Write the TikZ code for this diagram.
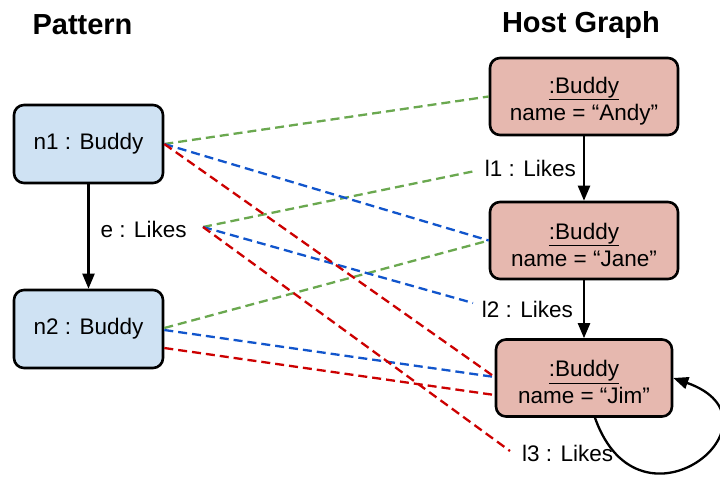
\documentclass[tikz,border=0pt]{standalone}
\usepackage{fontspec}
\setmainfont{Liberation Sans}
\usetikzlibrary{arrows.meta}
\definecolor{pfill}{HTML}{CFE2F3}
\definecolor{hfill}{HTML}{E6B8AF}
\definecolor{mgreen}{HTML}{6AA84F}
\definecolor{mblue}{HTML}{1155CC}
\definecolor{mred}{HTML}{CC0000}
\tikzset{
  body/.style={font=\fontsize{22.5}{27}\selectfont},
  title/.style={font=\fontsize{29}{34}\selectfont\bfseries, inner sep=0pt},
  pnode/.style={body, draw=black, line width=2.6pt, fill=pfill, rounded corners=10pt,
    minimum width=149pt, minimum height=78pt, inner sep=0pt},
  hnode/.style={body, draw=black, line width=2.6pt, fill=hfill, rounded corners=10pt,
    minimum width=188pt, minimum height=77pt, inner sep=0pt, align=center},
  lbl/.style={body, inner sep=0pt},
  arrowline/.style={draw=black, line width=2.3pt, -{Triangle[length=15pt,width=12pt]}},
  mapline/.style={line width=2.3pt, dash pattern=on 9pt off 5pt},
}
\begin{document}
\begin{tikzpicture}[x=1pt,y=-1pt]
\useasboundingbox (0,0) rectangle (720,477);
\node[title] (pat) at (82.5,25) {Pattern};
\node[title] (host) at (581,25) {Host Graph};

\node[pnode] (n1) at (88.5,144) {n1 : Buddy};
\node[pnode] (n2) at (88.5,329) {n2 : Buddy};

\node[hnode] (andy) at (584,96.5) {\rule{0pt}{25pt}\underline{:Buddy}\\name = “Andy”};
\node[hnode] (jane) at (584,240.5) {\rule{0pt}{25pt}\underline{:Buddy}\\name = “Jane”};
\node[hnode, minimum width=176pt] (jim) at (584,378) {\rule{0pt}{25pt}\underline{:Buddy}\\name = “Jim”};

\draw[arrowline] (n1) -- (n2) node[lbl, anchor=west, pos=0.43, xshift=11pt] (e) {e : Likes};
\draw[arrowline] (andy) -- (jane) node[lbl, anchor=east, pos=0.5, xshift=-7pt] (l1) {l1 : Likes};
\draw[arrowline] (jane) -- (jim) node[lbl, anchor=east, pos=0.5, xshift=-10pt] (l2) {l2 : Likes};
\node[lbl, anchor=west] (l3) at (522,453) {l3 : Likes};
\draw[arrowline] ([xshift=11pt]jim.south) .. controls (640,545) and (792,420) .. (jim.east);

\coordinate (ep) at (203,227);
\coordinate (l1p) at (475,171);
\coordinate (l2p) at (473,303);
\coordinate (l3p) at (510,451);

% green
\draw[mapline, mgreen] (n1.east) -- (andy.west);
\draw[mapline, mgreen] (ep) -- (l1p);
\draw[mapline, mgreen] ([yshift=1pt]n2.east) -- (jane.west);
% blue
\draw[mapline, mblue] (n1.east) -- (jane.west);
\draw[mapline, mblue] (ep) -- (l2p);
\draw[mapline, mblue] ([yshift=-1pt]n2.east) -- ([yshift=1pt]jim.west);
% red
\draw[mapline, mred] (n1.east) -- ([yshift=1pt]jim.west);
\draw[mapline, mred] (ep) -- (l3p);
\draw[mapline, mred] ([yshift=-19pt]n2.east) -- ([yshift=-17pt]jim.west);
\end{tikzpicture}
\end{document}
